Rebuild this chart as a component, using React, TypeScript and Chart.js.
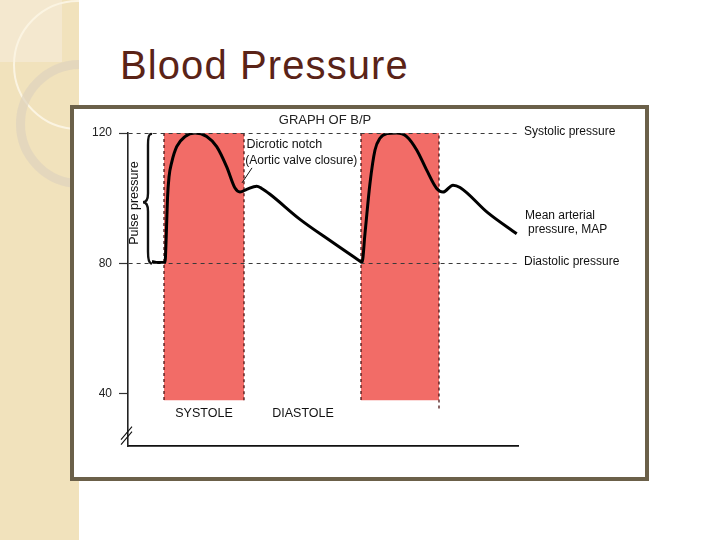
import React, { useEffect, useRef } from "react";
import { Chart, registerables } from "chart.js";

Chart.register(...registerables);

// ---- Data ----
const timeValues = [
  24, 30, 37, 38.2, 39.5, 41, 43.7, 48.7, 57, 67, 78.7, 88.7, 98.7, 107, 112, 118.7, 128.7,
  133.7, 142, 172, 202, 232, 234, 237, 242, 247, 252, 259, 268.7, 278.7, 288.7, 298.7, 308.7,
  315, 325, 332, 360, 388.7,
];
const pressureValues = [
  80.6, 80.3, 80.3, 88, 100, 106.5, 111, 115.8, 118.9, 120, 118.9, 115.8, 109.6, 103.1, 101.9,
  102.7, 103.7, 103, 101.2, 93.5, 87, 80.7, 80.3, 89.2, 104.6, 114.8, 118.4, 119.8, 120, 118.9,
  114.8, 108.6, 103, 101.9, 104, 103.3, 95.5, 89.1,
];
const systoleStarts = [36, 233];
const systoleEnds = [116, 311];
const systoleTop = 120;
const systoleBottoms = [38, 38];
const lastEdgeBottom = 35.5;
const yTickValues = [40, 80, 120];
const yMin = 24;
const yMax = 120;
const xMin = 0;
const xMax = 390;
const phaseLabels = ["SYSTOLE", "DIASTOLE"];
const pressureLabels = ["Systolic pressure", "Diastolic pressure"];
const mapLabel = ["Mean arterial", "pressure, MAP"];
const notchLabel = ["Dicrotic notch", "(Aortic valve closure)"];
const chartTitle = "GRAPH OF B/P";
const pulseLabel = "Pulse pressure";

const FONT = '"Liberation Sans", Arial, Helvetica, sans-serif';

const annotationPlugin = {
  id: "bpAnnotations",
  afterDraw(chart: any) {
    const ctx: CanvasRenderingContext2D = chart.ctx;
    const xs = chart.scales.x;
    const ys = chart.scales.y;
    const X = (v: number) => xs.getPixelForValue(v);
    const Y = (v: number) => ys.getPixelForValue(v);
    ctx.save();
    const text = (
      t: string,
      x: number,
      y: number,
      size: number,
      align: CanvasTextAlign = "left",
      base: CanvasTextBaseline = "middle",
      color = "#111"
    ) => {
      ctx.font = `${size}px ${FONT}`;
      ctx.fillStyle = color;
      ctx.textAlign = align;
      ctx.textBaseline = base;
      ctx.fillText(t, x, y);
    };

    text(chartTitle, X(197), Y(122.8), 13, "center", "alphabetic", "#222");
    text(pressureLabels[0], X(396), Y(120.3), 12);
    text(pressureLabels[1], X(396), Y(80.4), 12);
    text(mapLabel[0], X(397), Y(94.7), 12);
    text(mapLabel[1], X(400), Y(90.2), 12);
    text(notchLabel[0], X(118.5), Y(116.5), 12.5);
    text(notchLabel[1], X(117.3), Y(111.6), 12);
    text(phaseLabels[0], X(76), Y(34), 12.5, "center");
    text(phaseLabels[1], X(175), Y(34), 12.5, "center");

    // Pulse pressure (rotated)
    ctx.save();
    ctx.translate(X(7), Y(98.5));
    ctx.rotate(-Math.PI / 2);
    text(pulseLabel, 0, 0, 12.5, "center", "middle");
    ctx.restore();

    // leader line for dicrotic notch
    ctx.strokeStyle = "#111";
    ctx.lineWidth = 1;
    ctx.beginPath();
    ctx.moveTo(X(114), Y(104.7));
    ctx.lineTo(X(124), Y(109.3));
    ctx.stroke();

    // brace
    const top = Y(120);
    const bot = Y(80);
    const mid = (top + bot) / 2 + 4;
    const xl = X(15);
    const xr = X(23);
    const xm = (xl + xr) / 2 + 1;
    ctx.lineWidth = 2.4;
    ctx.lineCap = "round";
    ctx.beginPath();
    ctx.moveTo(xr, top + 1);
    ctx.quadraticCurveTo(xm, top + 1, xm, top + 12);
    ctx.lineTo(xm, mid - 9);
    ctx.quadraticCurveTo(xm, mid, xl, mid);
    ctx.quadraticCurveTo(xm, mid, xm, mid + 9);
    ctx.lineTo(xm, bot - 12);
    ctx.quadraticCurveTo(xm, bot - 1, xr, bot);
    ctx.stroke();

    // axis break marks
    const ax = X(0);
    const yb = Y(27.8);
    ctx.lineWidth = 1.1;
    ctx.lineCap = "butt";
    ctx.beginPath();
    ctx.moveTo(ax - 7, yb + 6);
    ctx.lineTo(ax + 4, yb - 7);
    ctx.moveTo(ax - 7, yb + 11);
    ctx.lineTo(ax + 4, yb - 2);
    ctx.stroke();
    ctx.restore();
  },
};

function ChartView() {
  const ref = useRef<HTMLCanvasElement | null>(null);
  useEffect(() => {
    if (!ref.current) return;
    const curve = timeValues.map((t, i) => ({ x: t, y: pressureValues[i] }));
    const bands = systoleStarts.map((s, i) => ({
      type: "line" as const,
      data: [
        { x: s, y: systoleTop },
        { x: systoleEnds[i], y: systoleTop },
      ],
      borderWidth: 0,
      borderColor: "rgba(0,0,0,0)",
      backgroundColor: "#f26c67",
      fill: { value: systoleBottoms[i] },
      order: 3,
    }));
    const edgePts: { x: number; y: number | null }[] = [];
    systoleStarts.forEach((s, i) => {
      const e = systoleEnds[i];
      const b = systoleBottoms[i];
      const eb = i === systoleStarts.length - 1 ? lastEdgeBottom : b;
      edgePts.push({ x: s, y: systoleTop }, { x: s, y: b }, { x: s, y: null });
      edgePts.push({ x: e, y: eb }, { x: e, y: systoleTop }, { x: e, y: null });
    });
    const chart = new Chart(ref.current, {
      type: "line",
      data: {
        datasets: [
          {
            data: curve,
            borderColor: "#000",
            borderWidth: 3,
            cubicInterpolationMode: "monotone",
            fill: false,
            order: 0,
          } as any,
          {
            data: edgePts,
            borderColor: "#4a1616",
            borderWidth: 1.3,
            borderDash: [3, 3],
            fill: false,
            spanGaps: false,
            order: 1,
          } as any,
          ...(bands as any[]),
        ],
      },
      options: {
        responsive: false,
        animation: false,
        events: [],
        layout: { padding: { left: 0, right: 127, top: 24, bottom: 31 } },
        elements: { point: { radius: 0 } },
        plugins: { legend: { display: false }, tooltip: { enabled: false } },
        scales: {
          x: {
            type: "linear",
            min: xMin,
            max: xMax,
            ticks: { display: false },
            grid: { display: false, drawTicks: false },
            border: { display: true, color: "#111", width: 1.8 },
            afterFit: (s: any) => {
              s.height = 0;
            },
          },
          y: {
            type: "linear",
            min: yMin,
            max: yMax,
            afterBuildTicks: (s: any) => {
              s.ticks = yTickValues.map((v) => ({ value: v }));
            },
            afterFit: (s: any) => {
              s.width = 54;
            },
            ticks: {
              color: "#222",
              padding: 7,
              font: { family: FONT, size: 12 },
            },
            grid: {
              z: 1,
              drawOnChartArea: true,
              drawTicks: true,
              tickLength: 9,
              tickColor: "#333",
              tickWidth: 1.2,
              lineWidth: 1,
              color: (c: any) =>
                c.tick && c.tick.value === yTickValues[0] ? "rgba(0,0,0,0)" : "#3a3a3a",
            },
            border: { display: true, color: "#222", width: 1.6, dash: [4, 4], z: 1 },
          },
        },
      },
      plugins: [annotationPlugin],
    } as any);
    return () => chart.destroy();
  }, []);
  return (
    <canvas
      ref={ref}
      width={571}
      height={368}
      style={{ display: "block", width: 571, height: 368 }}
    />
  );
}

export default function App() {
  return (
    <div
      style={{
        position: "fixed",
        left: 0,
        top: 0,
        width: 720,
        height: 540,
        background: "#ffffff",
        overflow: "hidden",
        fontFamily: FONT,
      }}
    >
      <div
        style={{
          position: "absolute",
          left: 0,
          top: 0,
          width: 79,
          height: 540,
          background: "#f1e2bc",
          overflow: "hidden",
        }}
      >
        <div
          style={{
            position: "absolute",
            left: 0,
            top: 0,
            width: 62,
            height: 62,
            background: "#f4e8cf",
          }}
        />
        <div
          style={{
            position: "absolute",
            left: 13,
            top: 0,
            width: 130,
            height: 130,
            borderRadius: "50%",
            border: "2px solid #fbf4e2",
            boxSizing: "border-box",
          }}
        />
        <div
          style={{
            position: "absolute",
            left: 16,
            top: 60,
            width: 128,
            height: 128,
            borderRadius: "50%",
            border: "9px solid rgba(222,211,190,0.7)",
            boxSizing: "border-box",
          }}
        />
      </div>
      <div
        style={{
          position: "absolute",
          left: 120,
          top: 44.5,
          fontSize: 40,
          lineHeight: "40px",
          letterSpacing: "1.1px",
          color: "#5a2317",
          whiteSpace: "nowrap",
        }}
      >
        Blood Pressure
      </div>
      <div
        style={{
          position: "absolute",
          left: 70,
          top: 105,
          width: 579,
          height: 376,
          border: "4px solid #6b6049",
          boxSizing: "border-box",
          background: "#ffffff",
        }}
      >
        <ChartView />
      </div>
    </div>
  );
}
